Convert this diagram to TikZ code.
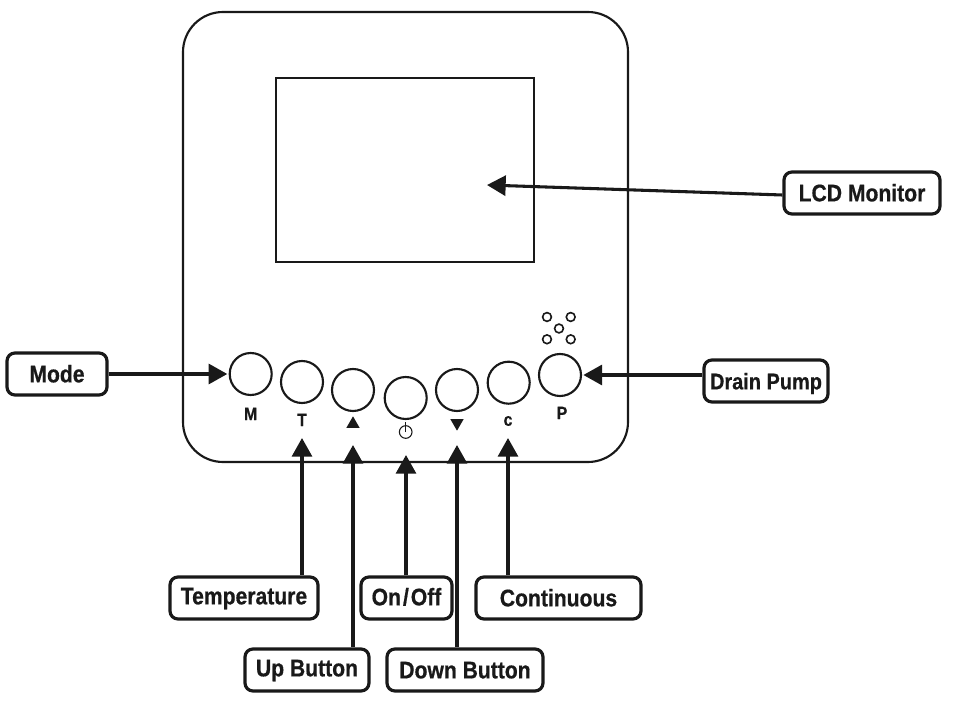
\documentclass[tikz,border=0pt]{standalone}
\usepackage{fontspec}
\setmainfont[FakeStretch=0.88,BoldFeatures={FakeBold=0.6}]{Liberation Sans}
\usepackage{tikz}
\usetikzlibrary{positioning,arrows.meta,shapes.geometric}

\tikzset{
  panel/.style={draw=black!90,line width=1.6pt},
  button/.style={circle,draw=black!90,line width=1.6pt,minimum size=31.5pt,inner sep=0pt},
  hole/.style={circle,draw=black!90,line width=1.2pt,minimum size=6.6pt,inner sep=0pt},
  callout/.style={draw=black!90,line width=2.4pt,rounded corners=6pt,minimum height=31.5pt,inner sep=0pt,
    font=\fontsize{18}{18}\selectfont\bfseries,text=black!90,text height=12.5pt,text depth=0pt,fill=white},
  boxw/.style={minimum width=#1*0.75pt},
  keyname/.style={font=\fontsize{13.5}{13.5}\selectfont\bfseries,text=black!90,inner sep=0pt},
  mark tri/.style={regular polygon,regular polygon sides=3,fill=black!90,inner sep=0pt,minimum size=11.5pt},
  pointer/.style={-{Triangle[length=14pt,width=15pt]},line width=2.3pt,draw=black!90},
}

\begin{document}
\begin{tikzpicture}[x=0.75pt,y=-0.75pt]
\useasboundingbox (0,0) rectangle (958,706);
% housing and screen
\draw[panel,rounded corners=30pt] (183,12) rectangle (628,462);
\draw[panel] (276,78) rectangle (534,262);
% buttons
\foreach \name/\x/\y in {btnM/250.7/374,btnT/302/382,btnUp/353/390,btnPower/405.7/398,btnDown/457/390,btnC/508.7/382.7,btnP/560/375}
  \node[button] (\name) at (\x,\y) {};
% drain holes
\foreach \x/\y in {547/317,570.7/317,559/328.5,547/339.3,570.7/339.3}
  \node[hole] at (\x,\y) {};
% key marks
\node[keyname] (markM) at (250.7,414) {M};
\node[keyname] (markT) at (302,420) {T};
\node[keyname] (markC) at (508,421) {c};
\node[keyname] (markP) at (562,413) {P};
\node[mark tri] (markUp) at (353,424) {};
\node[mark tri,shape border rotate=180] (markDown) at (457,423) {};
\node[circle,draw=black!90,line width=0.8pt,minimum size=9.5pt,inner sep=0pt] (markPower) at (405.7,432) {};
\draw[line width=0.8pt,draw=black!90] (markPower.center) -- ++(0,-10);
% labels
\node[callout,boxw=100] (modeBox) at (57,374) {Mode};
\node[callout,boxw=156] (lcdBox) at (862,193) {LCD Monitor};
\node[callout,boxw=124,font=\fontsize{17}{17}\selectfont\bfseries] (pumpBox) at (766,381) {Drain Pump};
\node[callout,boxw=148,text depth=3pt] (tempBox) at (244,598) {Temperature};
\node[callout,boxw=91,text depth=1.5pt] (onBox) at (406.5,598) {On\hspace{1.5pt}/\hspace{1.5pt}Off};
\node[callout,boxw=165] (contBox) at (558.5,598) {Continuous};
\node[callout,boxw=124,text depth=3pt] (upBox) at (307,670) {Up Button};
\node[callout,boxw=156] (downBox) at (465,670) {Down Button};
% arrow tips
\coordinate (tipLcd) at (487,185);
\coordinate (tipT) at (302,438);
\coordinate (tipUp) at (353,445);
\coordinate (tipPower) at (406,455);
\coordinate (tipDown) at (457,445);
\coordinate (tipC) at (508,438);
% arrows
\draw[pointer] (lcdBox.west |- 0,195) -- (tipLcd);
\draw[pointer] (modeBox.east) -- ([xshift=-1pt]btnM.west);
\draw[pointer] (pumpBox.west |- btnP.east) -- ([xshift=1pt]btnP.east);
\draw[pointer] (tempBox.north -| tipT) -- (tipT);
\draw[pointer] (upBox.north -| tipUp) -- (tipUp);
\draw[pointer] (onBox.north -| tipPower) -- (tipPower);
\draw[pointer] (downBox.north -| tipDown) -- (tipDown);
\draw[pointer] (contBox.north -| tipC) -- (tipC);
\end{tikzpicture}
\end{document}
